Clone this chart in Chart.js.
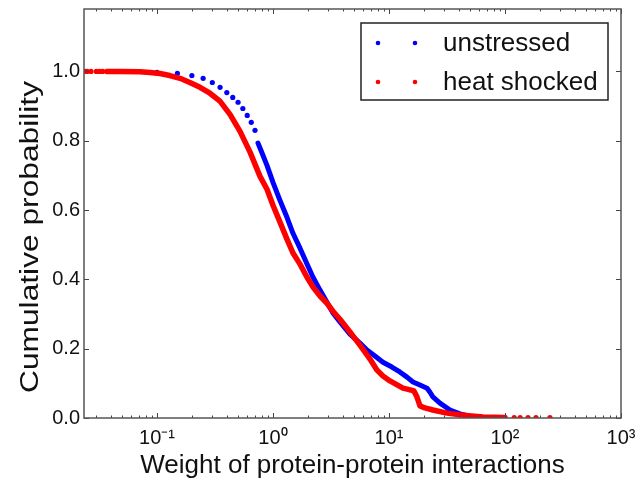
<!DOCTYPE html>
<html>
<head>
<meta charset="utf-8">
<script src="https://cdn.jsdelivr.net/npm/chart.js@4"></script>
<style>
  html, body { margin: 0; padding: 0; background: #fff; }
  #wrap { width: 638px; height: 484px; }
</style>
</head>
<body>
<div id="wrap"><canvas id="ccdf"></canvas></div>
<script>
// unstressed: the first weights are spread out, the rest form a dense curve
const unstressedDotsW = [0.1, 0.15, 0.2, 0.25, 0.3, 0.35, 0.4, 0.45, 0.5, 0.55, 0.6, 0.65, 0.7];
const unstressedDotsP = [0.997, 0.994, 0.988, 0.980, 0.968, 0.954, 0.939, 0.925, 0.911, 0.893, 0.873, 0.853, 0.830];
const unstressedW = [0.743, 0.789, 0.888, 1.0, 1.149, 1.32, 1.487, 1.71, 1.965, 2.214, 2.543, 2.92, 3.29,
  3.78, 4.61, 5.62, 6.46, 7.57, 8.87, 10.6, 12.4, 14.3, 16.1, 18.5, 21.3, 22.5, 23.9, 27.5, 33.6, 40.9, 53, 74];
const unstressedP = [0.793, 0.772, 0.729, 0.680, 0.628, 0.579, 0.533, 0.490, 0.444, 0.406, 0.369, 0.334, 0.303,
  0.277, 0.242, 0.216, 0.196, 0.179, 0.161, 0.147, 0.133, 0.118, 0.104, 0.095, 0.086, 0.075, 0.061, 0.043, 0.023, 0.012, 0.003, 0.001];

// heat shocked
const heatDotsW = [0.024, 0.025, 0.027, 0.030, 0.032, 0.034, 120, 135, 158, 185, 244];
const heatDotsP = [1.0, 1.0, 1.0, 1.0, 1.0, 1.0, 0.001, 0.001, 0.001, 0.001, 0.001];
const heatW = [0.037, 0.048, 0.0713, 0.0871, 0.106, 0.129, 0.158, 0.192, 0.235, 0.286, 0.349, 0.426, 0.52,
  0.634, 0.773, 0.888, 1.0, 1.149, 1.32, 1.487, 1.71, 1.965, 2.214, 2.543, 2.92, 3.29, 3.78, 4.61, 5.62,
  6.86, 7.89, 8.87, 10.2, 13.2, 15.2, 16.4, 17.4, 18.5, 20.4, 23.9, 31.6, 40.9, 64.6, 100];
const heatP = [1.0, 1.0, 0.999, 0.997, 0.994, 0.988, 0.980, 0.968, 0.954, 0.937, 0.914, 0.876, 0.827,
  0.767, 0.697, 0.660, 0.614, 0.565, 0.516, 0.476, 0.444, 0.406, 0.378, 0.352, 0.331, 0.308, 0.285, 0.248, 0.210,
  0.170, 0.138, 0.121, 0.107, 0.086, 0.081, 0.078, 0.061, 0.035, 0.029, 0.023, 0.014, 0.009, 0.003, 0.0015];

const xTicks = [0.1, 1, 10, 100, 1000];
const xTickLabels = ["10\u207B\u00B9", "10\u2070", "10\u00B9", "10\u00B2", "10\u00B3"];
const yTicks = [0, 0.2, 0.4, 0.6, 0.8, 1.0];
const yTickLabels = ["0.0", "0.2", "0.4", "0.6", "0.8", "1.0"];
const yTitle = "Cumulative probability";

const BLUE = "#0000ff";
const RED = "#ff0000";

function pts(xs, ys) {
  return xs.map(function (v, i) { return { x: v, y: ys[i] }; });
}

Chart.defaults.font.family = "'Liberation Sans', Arial, sans-serif";
Chart.defaults.color = "#000";

// matplotlib style frame with inward ticks on all four sides
const frameTicks = {
  id: "frameTicks",
  afterDatasetsDraw(chart) {
    const { ctx, chartArea: a, scales: { x, y } } = chart;
    ctx.save();
    ctx.strokeStyle = "#444";
    ctx.lineWidth = 1;
    function seg(x1, y1, x2, y2) {
      ctx.beginPath(); ctx.moveTo(x1, y1); ctx.lineTo(x2, y2); ctx.stroke();
    }
    for (let e = -2; e <= 3; e++) {
      for (let m = 1; m < 10; m++) {
        const v = m * Math.pow(10, e);
        if (v < x.min || v > x.max) continue;
        const px = Math.round(x.getPixelForValue(v)) + 0.5;
        const len = m === 1 ? 5 : 2.5;
        seg(px, a.bottom, px, a.bottom - len);
        seg(px, a.top, px, a.top + len);
      }
    }
    yTicks.forEach(function (v) {
      const py = Math.round(y.getPixelForValue(v)) + 0.5;
      seg(a.left, py, a.left + 5, py);
      seg(a.right, py, a.right - 5, py);
    });
    ctx.lineWidth = 1.5;
    ctx.strokeStyle = "#555";
    ctx.strokeRect(a.left, a.top, a.right - a.left, a.bottom - a.top);
    ctx.restore();
  }
};

// y title is drawn a bit stretched along its length, like the original
const stretchedYTitle = {
  id: "stretchedYTitle",
  afterDraw(chart) {
    const ctx = chart.ctx;
    ctx.save();
    ctx.translate(31, 237);
    ctx.rotate(-Math.PI / 2);
    ctx.scale(1.22, 1);
    ctx.font = "26px 'Liberation Sans', Arial, sans-serif";
    ctx.fillStyle = "#111";
    ctx.textAlign = "center";
    ctx.textBaseline = "middle";
    ctx.fillText(yTitle, 0, 0);
    ctx.restore();
  }
};

// legend box with two markers per entry
const dotLegend = {
  id: "dotLegend",
  afterDraw(chart) {
    const { ctx, chartArea: a } = chart;
    const w = 247, h = 77;
    const left = a.right - 13 - w, top = a.top + 14;
    ctx.save();
    ctx.fillStyle = "#fff";
    ctx.fillRect(left, top, w, h);
    ctx.strokeStyle = "#222";
    ctx.lineWidth = 1.5;
    ctx.strokeRect(left, top, w, h);
    const rows = [
      { label: chart.data.datasets[2].label, color: BLUE, y: top + 20 },
      { label: chart.data.datasets[0].label, color: RED, y: top + 59 }
    ];
    ctx.font = "26px 'Liberation Sans', Arial, sans-serif";
    ctx.textBaseline = "middle";
    rows.forEach(function (r) {
      ctx.fillStyle = r.color;
      [17, 54].forEach(function (dx) {
        ctx.beginPath(); ctx.arc(left + dx, r.y, 2.3, 0, Math.PI * 2); ctx.fill();
      });
      ctx.fillStyle = "#111";
      ctx.fillText(r.label, left + 82, r.y + 1);
    });
    ctx.restore();
  }
};

new Chart(document.getElementById("ccdf"), {
  type: "scatter",
  data: {
    datasets: [
      {
        label: "heat shocked",
        data: pts(heatW, heatP),
        showLine: true,
        borderColor: RED,
        borderWidth: 5.5,
        borderJoinStyle: "round",
        borderCapStyle: "round",
        pointRadius: 0,
        order: 1,
      },
      {
        label: "heat shocked dots",
        data: pts(heatDotsW, heatDotsP),
        backgroundColor: RED,
        borderWidth: 0,
        pointRadius: 2.6,
        order: 1,
      },
      {
        label: "unstressed",
        data: pts(unstressedW, unstressedP),
        showLine: true,
        borderColor: BLUE,
        borderWidth: 5,
        borderJoinStyle: "round",
        borderCapStyle: "round",
        pointRadius: 0,
        order: 2,
      },
      {
        label: "unstressed dots",
        data: pts(unstressedDotsW, unstressedDotsP),
        backgroundColor: BLUE,
        borderWidth: 0,
        pointRadius: 2.6,
        order: 2,
      },
    ],
  },
  options: {
    responsive: true,
    maintainAspectRatio: false,
    animation: false,
    layout: { padding: { left: 0, right: 17, top: 9, bottom: 0 } },
    scales: {
      x: {
        type: "logarithmic",
        min: 0.0235,
        max: 1000,
        grid: { display: false, drawTicks: false },
        border: { display: false },
        afterBuildTicks: function (scale) {
          scale.ticks = xTicks.map(function (v) { return { value: v }; });
        },
        afterFit: function (scale) {
          scale.height = 66;
          scale.paddingLeft = 0;
          scale.paddingRight = 0;
        },
        ticks: {
          padding: 8,
          maxRotation: 0,
          font: { size: 20 },
          color: "#111",
          callback: function (value) {
            const i = xTicks.indexOf(value);
            return i >= 0 ? xTickLabels[i] : "";
          },
        },
        title: {
          display: true,
          text: "Weight of protein-protein interactions",
          font: { size: 26 },
          color: "#111",
          padding: { top: 0, bottom: 3 },
        },
      },
      y: {
        min: 0,
        max: 1.18,
        grid: { display: false, drawTicks: false },
        border: { display: false },
        afterBuildTicks: function (scale) {
          scale.ticks = yTicks.map(function (v) { return { value: v }; });
        },
        afterFit: function (scale) {
          scale.width = 84;
          scale.paddingTop = 0;
          scale.paddingBottom = 0;
        },
        ticks: {
          padding: 4,
          font: { size: 20 },
          color: "#111",
          callback: function (value) {
            const i = yTicks.indexOf(value);
            return i >= 0 ? yTickLabels[i] : "";
          },
        },
      },
    },
    plugins: {
      legend: { display: false },
      tooltip: { enabled: false },
    },
  },
  plugins: [frameTicks, dotLegend, stretchedYTitle],
});
</script>
</body>
</html>
